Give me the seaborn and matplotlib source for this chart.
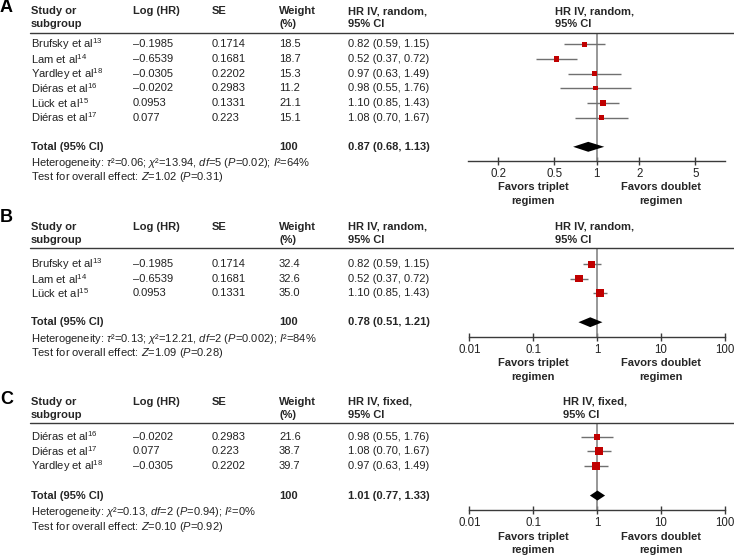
import pandas as pd
import seaborn as sns
import matplotlib.pyplot as plt
from matplotlib.transforms import blended_transform_factory
from matplotlib.ticker import FixedLocator, FixedFormatter, NullLocator

# Panel A - random effects, all studies
a_studies = ["Brufsky et al$^{13}$", "Lam et al$^{14}$", "Yardley et al$^{18}$",
             "Diéras et al$^{16}$", "Lück et al$^{15}$", "Diéras et al$^{17}$"]
a_loghr = [-0.1985, -0.6539, -0.0305, -0.0202, 0.0953, 0.077]
a_se = [0.1714, 0.1681, 0.2202, 0.2983, 0.1331, 0.223]
a_weight = [18.5, 18.7, 15.3, 11.2, 21.1, 15.1]
a_hr = [0.82, 0.52, 0.97, 0.98, 1.10, 1.08]
a_lo = [0.59, 0.37, 0.63, 0.55, 0.85, 0.70]
a_hi = [1.15, 0.72, 1.49, 1.76, 1.43, 1.67]
a_total = [0.87, 0.68, 1.13]
a_ticks = [0.2, 0.5, 1, 2, 5]
a_ticklabels = ["0.2", "0.5", "1", "2", "5"]

# Panel B - random effects, subset
b_studies = ["Brufsky et al$^{13}$", "Lam et al$^{14}$", "Lück et al$^{15}$"]
b_loghr = [-0.1985, -0.6539, 0.0953]
b_se = [0.1714, 0.1681, 0.1331]
b_weight = [32.4, 32.6, 35.0]
b_hr = [0.82, 0.52, 1.10]
b_lo = [0.59, 0.37, 0.85]
b_hi = [1.15, 0.72, 1.43]
b_total = [0.78, 0.51, 1.21]

# Panel C - fixed effects, subset
c_studies = ["Diéras et al$^{16}$", "Diéras et al$^{17}$", "Yardley et al$^{18}$"]
c_loghr = [-0.0202, 0.077, -0.0305]
c_se = [0.2983, 0.223, 0.2202]
c_weight = [21.6, 38.7, 39.7]
c_hr = [0.98, 1.08, 0.97]
c_lo = [0.55, 0.70, 0.63]
c_hi = [1.76, 1.67, 1.49]
c_total = [1.01, 0.77, 1.33]

bc_ticks = [0.01, 0.1, 1, 10, 100]
bc_ticklabels = ["0.01", "0.1", "1", "10", "100"]

sns.set_theme(style="white")
plt.rcParams["font.family"] = ["Liberation Sans", "DejaVu Sans"]
plt.rcParams["mathtext.fontset"] = "custom"
plt.rcParams["mathtext.rm"] = "Liberation Sans"
plt.rcParams["mathtext.it"] = "Liberation Sans:italic"
plt.rcParams["mathtext.bf"] = "Liberation Sans:bold"

W, H = 734, 558
RED = "#c00000"
GRAY = "#707070"
DARK = "#3a3a3a"
FS = 8

fig = plt.figure(figsize=(W / 100, H / 100), dpi=100)


def fy(y):
    return 1 - y / H


def fx(x):
    return x / W


COLS = [31, 133, 212, 279, 348]


def panel(letter, box, ylim, xlim, ticks, ticklabels, studies, loghr, se, weight,
          hr, lo, hi, total, method, het, test, letter_y):
    left, right, top, bottom = box
    ax = fig.add_axes([fx(left), fy(bottom), fx(right - left), (bottom - top) / H])
    ax.set_xscale("log")
    n = len(studies)
    rows = list(range(n))
    df = pd.DataFrame({"hr": hr, "row": rows, "weight": weight})

    ax.axvline(1, color="#858585", lw=1.2, zorder=1)
    ax.hlines(rows, lo, hi, color=GRAY, lw=1.0, zorder=2)
    sns.scatterplot(data=df, x="hr", y="row", size="weight", sizes=(0, 33),
                    size_norm=(0, 40), marker="s", color=RED, linewidth=0,
                    legend=False, ax=ax, zorder=3)
    ty = n + 1
    est, tlo, thi = total
    ax.fill([tlo, est, thi, est], [ty, ty - 0.34, ty, ty + 0.34], color="black", lw=0, zorder=3)

    ax.set_xlim(*xlim)
    ax.set_ylim(*ylim)
    ax.set_xlabel("")
    ax.set_ylabel("")
    ax.set_yticks([])
    ax.xaxis.set_major_locator(FixedLocator(ticks))
    ax.xaxis.set_major_formatter(FixedFormatter(ticklabels))
    ax.xaxis.set_minor_locator(NullLocator())
    ax.tick_params(axis="x", direction="inout", length=6, width=1, color=DARK,
                   pad=2, labelsize=FS + 0.3, labelcolor="#222222", bottom=True)
    for s in ["top", "right", "left"]:
        ax.spines[s].set_visible(False)
    ax.spines["bottom"].set_color(DARK)
    ax.spines["bottom"].set_linewidth(1)
    ax.patch.set_alpha(0)

    # header rule across the table
    ax.plot([fx(30), 1], [ylim[1], ylim[1]], color=DARK, lw=1,
            transform=blended_transform_factory(fig.transFigure, ax.transData),
            clip_on=False)

    # panel letter
    fig.text(0, fy(letter_y), letter, fontsize=13, fontweight="bold", va="center",
             ha="left", color="black")

    # headers
    h1, h2 = top - 21.5, top - 8.5
    heads = [("Study or", "subgroup"), ("Log (HR)", ""), ("SE", ""),
             ("Weight", "(%)"), (f"HR IV, {method},", "95% CI")]
    for x, (l1, l2) in zip(COLS, heads):
        fig.text(fx(x), fy(h1), l1, fontsize=FS, fontweight="bold", va="center")
        fig.text(fx(x), fy(h2), l2, fontsize=FS, fontweight="bold", va="center")
    fx_head = 555 if method == "random" else 563
    fig.text(fx(fx_head), fy(h1), f"HR IV, {method},", fontsize=FS, fontweight="bold", va="center")
    fig.text(fx(fx_head), fy(h2), "95% CI", fontsize=FS, fontweight="bold", va="center")

    # rows
    tr = blended_transform_factory(fig.transFigure, ax.transData)
    for i in rows:
        vals = [studies[i], str(loghr[i]).replace("-", "–"), str(se[i]),
                f"{weight[i]:.1f}", f"{hr[i]:.2f} ({lo[i]:.2f}, {hi[i]:.2f})"]
        for x, v in zip(COLS, vals):
            ax.text(fx(x), i, v, transform=tr, fontsize=FS, va="center",
                    color="#222222")
    ax.text(fx(COLS[0]), ty, "Total (95% CI)", transform=tr, fontsize=FS,
            fontweight="bold", va="center")
    ax.text(fx(COLS[3]), ty, "100", transform=tr, fontsize=FS, fontweight="bold", va="center")
    ax.text(fx(COLS[4]), ty, f"{est:.2f} ({tlo:.2f}, {thi:.2f})", transform=tr,
            fontsize=FS, fontweight="bold", va="center")

    fig.text(fx(31), fy(bottom + 2), het, fontsize=FS, va="center", color="#222222")
    fig.text(fx(31), fy(bottom + 16.5), test, fontsize=FS, va="center", color="#222222")

    for cx, t in [(533, "Favors triplet"), (661, "Favors doublet")]:
        fig.text(fx(cx), fy(bottom + 26.5), t, fontsize=FS, fontweight="bold",
                 ha="center", va="center")
        fig.text(fx(cx), fy(bottom + 40), "regimen", fontsize=FS, fontweight="bold",
                 ha="center", va="center")
    return ax


panel("A", (468.3, 725, 32.7, 160.7), (7.95, -0.8), (0.123, 8.1), a_ticks, a_ticklabels,
      a_studies, a_loghr, a_se, a_weight, a_hr, a_lo, a_hi, a_total, "random",
      r"Heterogeneity: $\tau$²=0.06; $\chi$²=13.94, $df$=5 ($P$=0.02); $I$²=64%",
      r"Test for overall effect: $Z$=1.02 ($P$=0.31)", 7)

panel("B", (469.3, 725, 248.3, 336.7), (5.0, -1.1), (0.01, 100), bc_ticks, bc_ticklabels,
      b_studies, b_loghr, b_se, b_weight, b_hr, b_lo, b_hi, b_total, "random",
      r"Heterogeneity: $\tau$²=0.13; $\chi$²=12.21, $df$=2 ($P$=0.002); $I$²=84%",
      r"Test for overall effect: $Z$=1.09 ($P$=0.28)", 218)

panel("C", (469.3, 725, 423.3, 510.3), (5.0, -0.9), (0.01, 100), bc_ticks, bc_ticklabels,
      c_studies, c_loghr, c_se, c_weight, c_hr, c_lo, c_hi, c_total, "fixed",
      r"Heterogeneity: $\chi$²=0.13, $df$=2 ($P$=0.94); $I$²=0%",
      r"Test for overall effect: $Z$=0.10 ($P$=0.92)", 400)

fig.savefig("out.png", dpi=100)
